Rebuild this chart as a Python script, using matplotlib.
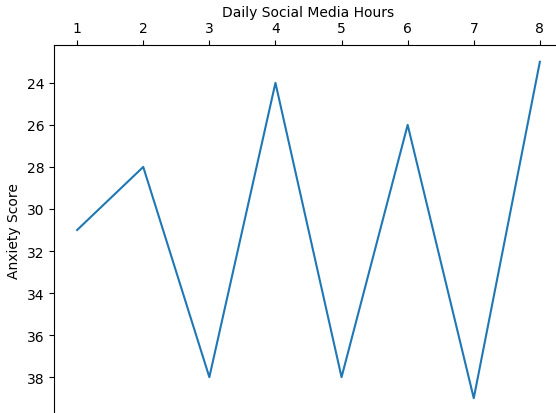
import matplotlib
matplotlib.use("Agg")
import matplotlib.pyplot as plt

hours = [1, 2, 3, 4, 5, 6, 7, 8]
anxiety = [31, 28, 38, 24, 38, 26, 39, 23]
yticks = [24, 26, 28, 30, 32, 34, 36, 38]

fig = plt.figure(figsize=(5.56, 4.14), dpi=100)
L, R = 54 / 556, 563 / 556
T, B = 1 - 46 / 414, 1 - 416 / 414
ax = fig.add_axes([L, B, R - L, T - B])
ax.plot(hours, anxiety, color="#1f77b4", linewidth=1.5)
ax.set_xlim(0.65, 8.35)
ax.set_ylim(39.8, 22.2)
ax.set_yticks(yticks)
ax.set_xticks(hours)
ax.xaxis.tick_top()
ax.xaxis.set_label_position("top")
ax.set_xlabel("Daily Social Media Hours")
ax.set_ylabel("Anxiety Score")
ax.spines["right"].set_visible(False)
ax.spines["bottom"].set_visible(False)
fig.savefig("out.png", dpi=100)
